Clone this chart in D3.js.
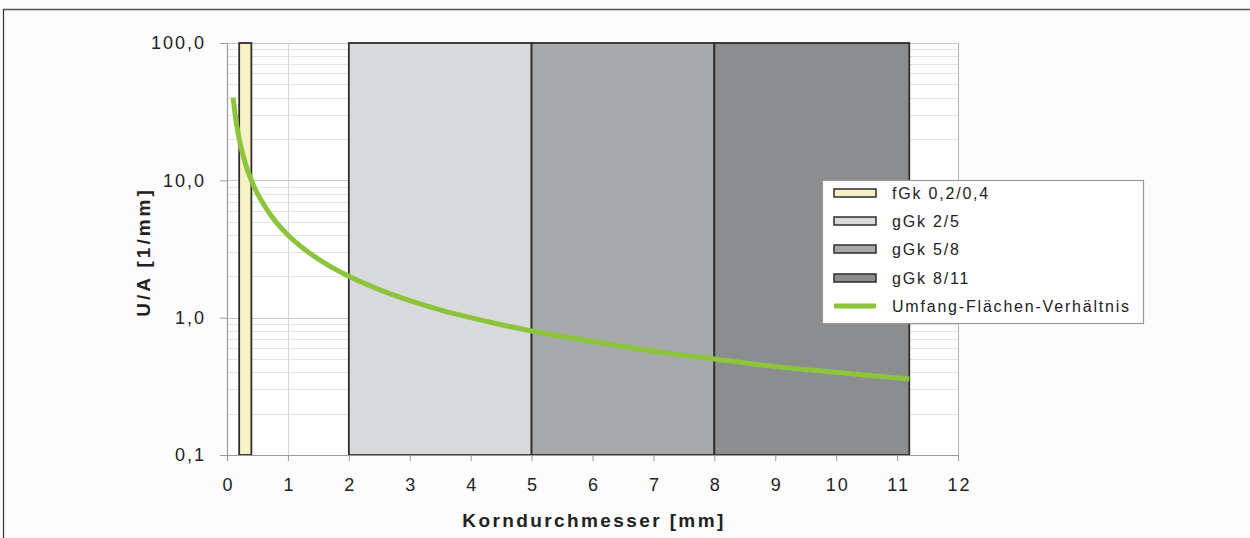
<!DOCTYPE html>
<html>
<head>
<meta charset="utf-8">
<script src="https://cdn.jsdelivr.net/npm/d3@7/dist/d3.min.js"></script>
<style>
  html, body { margin: 0; padding: 0; background: #fcfcfc; }
  svg { display: block; font-family: "Liberation Sans", Arial, sans-serif; }
</style>
</head>
<body>
<svg id="chart" width="1250" height="538"></svg>
<script>
// Grain classes (diameter ranges in mm)
const bandNames  = ["fGk 0,2/0,4", "gGk 2/5", "gGk 5/8", "gGk 8/11"];
const bandFrom   = [0.2, 2, 5, 8];
const bandTo     = [0.4, 5, 8, 11.2];
const bandColors = ["#f7f2c6", "#d9dadc", "#a8a9ab", "#8c8d8f"];

// Perimeter-to-area ratio vs. grain diameter
const diameter = [0.1, 0.15, 0.2, 0.3, 0.4, 0.5, 0.6, 0.8, 1.0, 1.2, 1.4, 1.7, 2.0, 2.5, 3.0, 3.5, 4.0, 5.0, 6.0, 7.0, 8.0, 9.0, 10.0, 11.2];
const ratio    = [40, 26.7, 20, 13.3, 10, 8, 6.7, 5, 4, 3.33, 2.86, 2.35, 2.0, 1.6, 1.33, 1.14, 1.0, 0.8, 0.67, 0.57, 0.5, 0.44, 0.4, 0.357];

const xTicks = [0, 1, 2, 3, 4, 5, 6, 7, 8, 9, 10, 11, 12];
const yTicks = [0.1, 1, 10, 100];
const yTickLabels = ["0,1", "1,0", "10,0", "100,0"];

const lineName = "Umfang-Flächen-Verhältnis";
const xTitle = "Korndurchmesser [mm]";
const yTitle = "U/A [1/mm]";

const svg = d3.select("#chart");
const L = 227, R = 958, T = 43, B = 455;

const x = d3.scaleLinear().domain([0, 12]).range([L, R]);
const y = d3.scaleLog().domain([0.1, 100]).range([B, T]);

// outer frame (top and left edges)
svg.append("line").attr("x1", 3).attr("x2", 1250).attr("y1", 9.5).attr("y2", 9.5)
  .attr("stroke", "#555").attr("stroke-width", 1.5);
svg.append("line").attr("x1", 3.5).attr("x2", 3.5).attr("y1", 9).attr("y2", 538)
  .attr("stroke", "#333").attr("stroke-width", 1.2);

// plot background
svg.append("rect").attr("x", L).attr("y", T).attr("width", R - L).attr("height", B - T)
  .attr("fill", "#ffffff");

// minor + major horizontal gridlines on the log scale
const minorVals = [];
for (let dec = 0.1; dec < 100; dec *= 10) {
  for (let k = 1; k <= 9; k++) minorVals.push(+(dec * k).toPrecision(3));
}
minorVals.push(100);
svg.append("g").selectAll("line").data(minorVals).join("line")
  .attr("x1", L).attr("x2", R)
  .attr("y1", d => Math.round(y(d)) + 0.5).attr("y2", d => Math.round(y(d)) + 0.5)
  .attr("stroke", d => yTicks.includes(d) ? "#c8c8c8" : "#e4e4e4").attr("stroke-width", 1);

// vertical gridlines
svg.append("g").selectAll("line").data(xTicks.slice(1)).join("line")
  .attr("x1", d => Math.round(x(d)) + 0.5).attr("x2", d => Math.round(x(d)) + 0.5)
  .attr("y1", T).attr("y2", B)
  .attr("stroke", d => d === 12 ? "#b5b5b5" : "#d6d6d6").attr("stroke-width", 1);

// grain class bands
svg.append("g").selectAll("rect").data(bandNames).join("rect")
  .attr("x", (d, i) => x(bandFrom[i]))
  .attr("y", T)
  .attr("width", (d, i) => x(bandTo[i]) - x(bandFrom[i]))
  .attr("height", B - T)
  .attr("fill", (d, i) => bandColors[i])
  .attr("stroke", "#2e2e2e").attr("stroke-width", 1.8);

// axes lines
svg.append("line").attr("x1", L + 0.5).attr("x2", L + 0.5).attr("y1", T).attr("y2", B + 6)
  .attr("stroke", "#9a9a9a").attr("stroke-width", 1.2);
svg.append("line").attr("x1", L - 7).attr("x2", R).attr("y1", B + 0.5).attr("y2", B + 0.5)
  .attr("stroke", "#9a9a9a").attr("stroke-width", 1.2);

// y axis
const yAxis = d3.axisLeft(y).tickValues(yTicks)
  .tickFormat((d, i) => yTickLabels[i]).tickSize(7).tickPadding(12);
const gy = svg.append("g").attr("transform", `translate(${L},0)`).call(yAxis);
gy.select(".domain").remove();
gy.selectAll(".tick line").attr("stroke", "#9a9a9a");
gy.selectAll(".tick text").attr("font-size", 18).attr("fill", "#222")
  .attr("letter-spacing", "2px").attr("dx", "-2px")
  .attr("font-family", "Liberation Sans, Arial, sans-serif");

// x axis
const xAxis = d3.axisBottom(x).tickValues(xTicks).tickSize(6).tickPadding(17);
const gx = svg.append("g").attr("transform", `translate(0,${B})`).call(xAxis);
gx.select(".domain").remove();
gx.selectAll(".tick line").attr("stroke", "#9a9a9a");
gx.selectAll(".tick text").attr("font-size", 18).attr("fill", "#222")
  .attr("letter-spacing", "2px").attr("dx", "1px")
  .attr("font-family", "Liberation Sans, Arial, sans-serif");

// curve
const line = d3.line().x(d => x(d)).y((d, i) => y(ratio[i])).curve(d3.curveMonotoneX);
svg.append("path").datum(diameter).attr("d", line)
  .attr("fill", "none").attr("stroke", "#8cc43c").attr("stroke-width", 5)
  .attr("stroke-linecap", "butt");

// axis titles
svg.append("text").attr("x", 594).attr("y", 527)
  .attr("text-anchor", "middle").attr("font-size", 19).attr("font-weight", "bold")
  .attr("letter-spacing", "2.4px")
  .attr("fill", "#222").text(xTitle);
svg.append("text").attr("transform", "translate(150,252) rotate(-90)")
  .attr("text-anchor", "middle").attr("font-size", 19).attr("font-weight", "bold")
  .attr("letter-spacing", "3px")
  .attr("fill", "#222").text(yTitle);

// legend
const lg = svg.append("g").attr("transform", "translate(822,180)");
lg.append("rect").attr("x", 0.5).attr("y", 0.5).attr("width", 321).attr("height", 143)
  .attr("fill", "#ffffff").attr("stroke", "#9a9a9a").attr("stroke-width", 1.2);
const rowY = [13, 41, 69, 98, 126];
bandNames.forEach((name, i) => {
  lg.append("rect").attr("x", 12).attr("y", rowY[i] - 4).attr("width", 42).attr("height", 8)
    .attr("fill", bandColors[i]).attr("stroke", "#2e2e2e").attr("stroke-width", 1.5);
  lg.append("text").attr("x", 70).attr("y", rowY[i] + 6).attr("font-size", 16)
    .attr("letter-spacing", "1.8px")
    .attr("fill", "#222").text(name);
});
lg.append("line").attr("x1", 12).attr("x2", 54).attr("y1", rowY[4]).attr("y2", rowY[4])
  .attr("stroke", "#8cc43c").attr("stroke-width", 5);
lg.append("text").attr("x", 70).attr("y", rowY[4] + 6).attr("font-size", 16)
  .attr("letter-spacing", "1.8px")
  .attr("fill", "#222").text(lineName);
</script>
</body>
</html>
